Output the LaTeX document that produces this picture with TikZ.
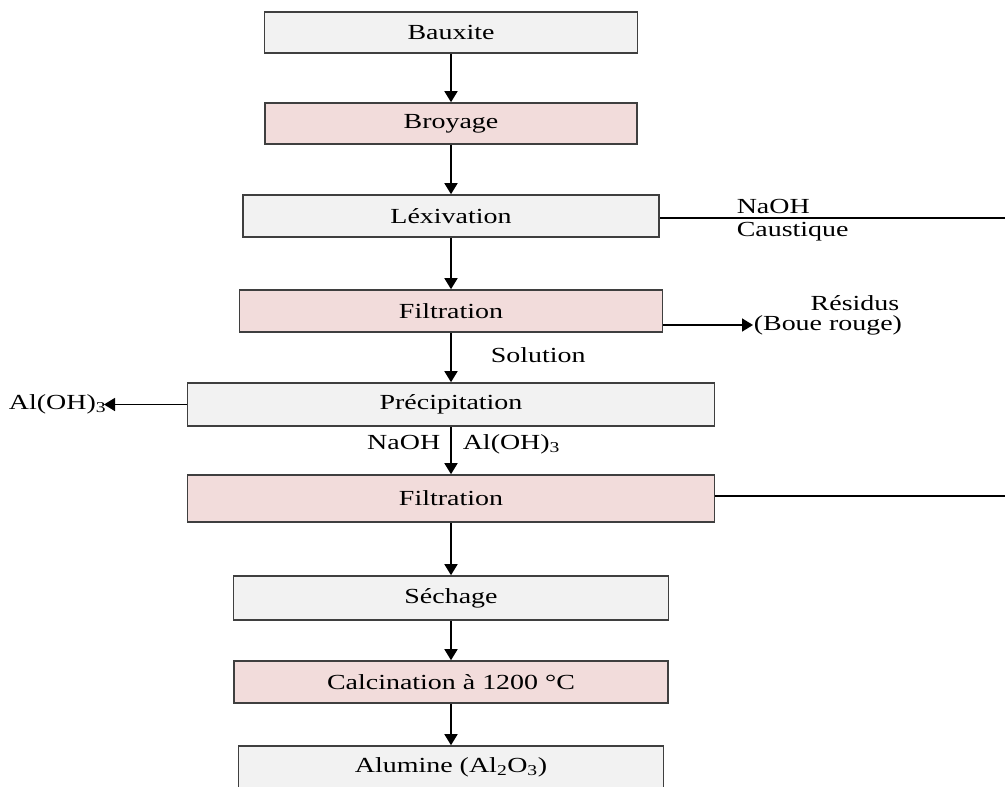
\documentclass[tikz,border=0pt]{standalone}
\usepackage{fontspec}
\setmainfont{Liberation Serif}[FakeStretch=1.3]
\usetikzlibrary{arrows.meta}
\definecolor{boxgrey}{HTML}{F2F2F2}
\definecolor{boxpink}{HTML}{F2DCDB}
\definecolor{boxline}{HTML}{3F3F3F}

\begin{document}
\begin{tikzpicture}[x=1pt,y=1pt,>={Triangle[width=13pt,length=11pt]},
	line width=1.6pt,font=\fontsize{21.5}{24}\selectfont,
	box node/.style={rectangle,draw=boxline,inner sep=0pt},
	grey node/.style={box node,fill=boxgrey},
	pink node/.style={box node,fill=boxpink},
	side text/.style={inner sep=0pt}]
	\useasboundingbox (0,0) rectangle (1005,-787);
	
	\node[grey node,minimum width=373pt,minimum height=41pt] (A) at (451,-32.5) {Bauxite};
	\node[pink node,minimum width=372pt,minimum height=41pt] (B) [below of=A,node distance=91pt] {Broyage};
	\node[grey node,minimum width=416pt,minimum height=42pt] (C) [below of=B,node distance=92.5pt] {Léxivation};
	\node[pink node,minimum width=423pt,minimum height=42pt] (D) [below of=C,node distance=95pt] {Filtration};
	\node[grey node,minimum width=527pt,minimum height=43pt] (E) [below of=D,node distance=93.5pt] {Précipitation};
	\node[pink node,minimum width=527pt,minimum height=47pt] (F) [below of=E,node distance=94pt] {Filtration};
	\node[grey node,minimum width=435pt,minimum height=44pt] (G) [below of=F,node distance=99.5pt] {Séchage};
	\node[pink node,minimum width=434pt,minimum height=42pt] (H) [below of=G,node distance=84pt] {Calcination à 1200 °C};
	\node[grey node,minimum width=425pt,minimum height=42pt] (I) [below of=H,node distance=85pt] {Alumine (Al\textsubscript{2}O\textsubscript{3})};
	
	% side texts
	\node[side text,anchor=base west] (naohA) at (736,-213) {NaOH};
	\node[side text,anchor=base west] (caustique) at (736,-236) {Caustique};
	\node[side text,anchor=base] (residus) at (855,-310) {Résidus};
	\node[side text,anchor=west] (boue) at (753,-325) {(Boue rouge)};
	\node[side text,anchor=base west] (solution) at (490,-362) {Solution};
	\node[side text,anchor=east] (alohA) at (107,-404.5) {Al(OH)\textsubscript{3}};
	\node[side text,anchor=base east] (naohB) at (441,-449) {NaOH};
	\node[side text,anchor=base west] (alohB) at (462,-449) {Al(OH)\textsubscript{3}};
	\coordinate (endC) at (1005,-218);
	\coordinate (endF) at (1005,-496);
	
	\path[->]
	(A) edge (B)
	(B) edge (C)
	(C) edge (D)
	(D) edge (E)
	(E) edge (F)
	(F) edge (G)
	(G) edge (H)
	(H) edge (I)
	(D.east |- boue.west) edge (boue.west)
	(E.west) edge ([xshift=-3pt]alohA.east);
	\draw (C.east |- endC) -- (endC);
	\draw (F.east |- endF) -- (endF);
\end{tikzpicture}
\end{document}
